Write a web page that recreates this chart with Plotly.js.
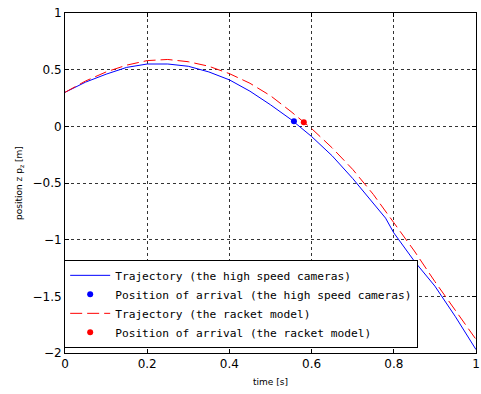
<!DOCTYPE html>
<html>
<head>
<meta charset="utf-8">
<script src="https://cdn.plot.ly/plotly-3.0.1.min.js"></script>
<style>html,body{margin:0;padding:0;background:#fff;}#chart{width:481px;height:394px;}</style>
</head>
<body>
<div id="chart"></div>
<script>
// Trajectory measured by the high speed cameras
const camTime = [0, 0.05, 0.1, 0.15, 0.2, 0.25, 0.3, 0.33, 0.35, 0.4, 0.45, 0.5, 0.55, 0.6, 0.65, 0.7, 0.75, 0.78, 0.8, 0.85, 0.9, 0.95, 1.0];
const camZ    = [0.30, 0.39, 0.46, 0.52, 0.55, 0.55, 0.53, 0.50, 0.48, 0.41, 0.31, 0.19, 0.06, -0.09, -0.26, -0.46, -0.68, -0.81, -0.94, -1.19, -1.41, -1.68, -1.97];
// Trajectory from the racket model
const modelTime = [0, 0.05, 0.1, 0.15, 0.2, 0.25, 0.3, 0.35, 0.4, 0.45, 0.5, 0.55, 0.6, 0.65, 0.7, 0.75, 0.8, 0.85, 0.9, 0.95, 1.0];
const modelZ    = [0.30, 0.40, 0.48, 0.54, 0.58, 0.59, 0.57, 0.53, 0.465, 0.38, 0.27, 0.13, -0.02, -0.19, -0.38, -0.60, -0.85, -1.10, -1.37, -1.63, -1.88];
// Positions of arrival
const camArrivalT = [0.557];
const camArrivalZ = [0.044];
const modelArrivalT = [0.581];
const modelArrivalZ = [0.035];

const xTicks = [0, 0.2, 0.4, 0.6, 0.8, 1];
const xTickText = ['0', '0.2', '0.4', '0.6', '0.8', '1'];
const yTicks = [-2, -1.5, -1, -0.5, 0, 0.5, 1];
const yTickText = ['\u22122', '\u22121.5', '\u22121', '\u22120.5', '0', '0.5', '1'];

const FONT = '"DejaVu Sans", sans-serif';
const LEGFONT = '"DejaVu Sans Mono", monospace';

const traces = [
  {x: camTime, y: camZ, type: 'scatter', mode: 'lines', name: 'Trajectory (the high speed cameras)',
   line: {color: '#0000ff', width: 1}},
  {x: camArrivalT, y: camArrivalZ, type: 'scatter', mode: 'markers', name: 'Position of arrival (the high speed cameras)',
   marker: {color: '#0000ff', size: 6}},
  {x: modelTime, y: modelZ, type: 'scatter', mode: 'lines', name: 'Trajectory (the racket model)',
   line: {color: '#ff0000', width: 1, dash: '12px,5px'}},
  {x: modelArrivalT, y: modelArrivalZ, type: 'scatter', mode: 'markers', name: 'Position of arrival (the racket model)',
   marker: {color: '#ff0000', size: 6}}
];

const axisCommon = {
  showline: true, linecolor: '#000', linewidth: 1, mirror: 'ticks',
  ticks: 'inside', ticklen: 4, tickcolor: '#000',
  showgrid: true, gridcolor: '#333', griddash: '3px,3px', gridwidth: 1,
  zeroline: false, ticklabeloverflow: 'allow',
  tickfont: {family: FONT, size: 12, color: '#000'}
};

const layout = {
  width: 481, height: 394,
  margin: {l: 65, r: 5, t: 13, b: 41},
  paper_bgcolor: '#fff', plot_bgcolor: '#fff',
  showlegend: true,
  xaxis: Object.assign({}, axisCommon, {
    range: [0, 1], tickmode: 'array', tickvals: xTicks, ticktext: xTickText,
    title: {text: 'time [s]', font: {family: FONT, size: 9, color: '#000'}, standoff: 8}
  }),
  yaxis: Object.assign({}, axisCommon, {
    range: [-2, 1], tickmode: 'array', tickvals: yTicks, ticktext: yTickText,
    title: {text: 'position z p<sub>z</sub> [m]', font: {family: FONT, size: 9, color: '#000'}, standoff: 8}
  }),
  legend: {
    x: -0.002, y: 0.274, xanchor: 'left', yanchor: 'top',
    bgcolor: '#fff', bordercolor: '#000', borderwidth: 1,
    font: {family: LEGFONT, size: 11.2, color: '#000'},
    tracegroupgap: 0, itemwidth: 40
  }
};

Plotly.newPlot('chart', traces, layout, {displayModeBar: false, staticPlot: true});
</script>
</body>
</html>
